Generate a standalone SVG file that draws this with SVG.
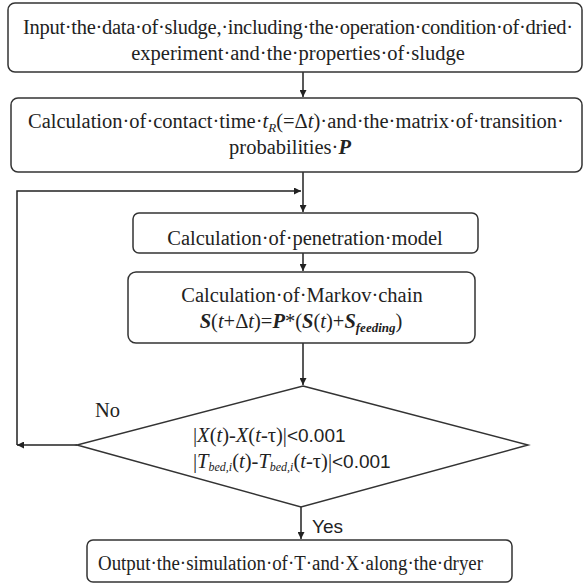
<svg xmlns="http://www.w3.org/2000/svg" width="584" height="584" viewBox="0 0 584 584">
<defs>
<marker id="ah" viewBox="0 0 10 10" refX="10" refY="5" markerWidth="8" markerHeight="7" orient="auto" markerUnits="userSpaceOnUse">
<path d="M0,0 L10,5 L0,10 z" fill="#222"/>
</marker>
<style>
.box{fill:#fff;stroke:#333;stroke-width:1.5}
.t{font-family:"Liberation Serif","Times New Roman",serif;font-size:20.5px;fill:#222}
.c{text-anchor:middle}
.l{text-anchor:start}
.ts{font-family:"Liberation Sans",Arial,sans-serif;font-size:19px;fill:#222}
.ln{fill:none;stroke:#222;stroke-width:1.5}
.i{font-style:italic}
.bi{font-style:italic;font-weight:bold}
.s{font-family:"Liberation Sans",Arial,sans-serif;font-size:19px}
</style>
</defs>
<rect width="584" height="584" fill="#fff"/>
<g id="connectors">
<line class="ln" x1="303" y1="72" x2="303" y2="97" marker-end="url(#ah)"/>
<line class="ln" x1="303" y1="172" x2="303" y2="212" marker-end="url(#ah)"/>
<polyline class="ln" points="17,445 17,191 301,191" marker-end="url(#ah)"/>
<line class="ln" x1="303" y1="253" x2="303" y2="271" marker-end="url(#ah)"/>
<line class="ln" x1="303" y1="343" x2="303" y2="385" marker-end="url(#ah)"/>
<line class="ln" x1="77" y1="445" x2="17" y2="445" marker-end="url(#ah)"/>
<line class="ln" x1="301" y1="507" x2="301" y2="539" marker-end="url(#ah)"/>
<text class="t l" x="95" y="417">No</text>
<text class="ts" x="312" y="533">Yes</text>
</g>
<g id="input">
<rect class="box" x="8" y="3" width="574" height="69" rx="7"/>
<text class="t c" x="298" y="34" textLength="550" lengthAdjust="spacing">Input·the·data·of·sludge,·including·the·operation·condition·of·dried·</text>
<text class="t c" x="298" y="60">experiment·and·the·properties·of·sludge</text>
</g>
<g id="contact">
<rect class="box" x="11" y="98" width="571" height="74" rx="7"/>
<text class="t c" x="296" y="128">Calculation·of·contact·time·<tspan class="i">t</tspan><tspan class="i" font-size="13" dy="4">R</tspan><tspan dy="-4">(=Δ</tspan><tspan class="i">t</tspan>)·and·the·matrix·of·transition·</text>
<text class="t c" x="290" y="154">probabilities·<tspan class="bi">P</tspan></text>
</g>
<g id="penetration">
<rect class="box" x="133" y="213" width="345" height="40" rx="6"/>
<text class="t c" x="305" y="245">Calculation·of·penetration·model</text>
</g>
<g id="markov">
<rect class="box" x="128" y="272" width="347" height="71" rx="8"/>
<text class="t c" x="302" y="302">Calculation·of·Markov·chain</text>
<text class="t c" x="301" y="328"><tspan class="bi">S</tspan>(<tspan class="i">t</tspan>+Δ<tspan class="i">t</tspan>)=<tspan class="bi">P</tspan>*(<tspan class="bi">S</tspan>(<tspan class="i">t</tspan>)+<tspan class="bi">S</tspan><tspan class="bi" font-size="13" dy="4">feeding</tspan><tspan dy="-4">)</tspan></text>
</g>
<g id="decision">
<polygon class="box" points="303,386 528,445 301,507 77,445"/>
<text class="t l" x="193" y="442">|<tspan class="i">X</tspan>(<tspan class="i">t</tspan>)-<tspan class="i">X</tspan>(<tspan class="i">t</tspan>-τ)|<tspan class="s">&lt;0.001</tspan></text>
<text class="t l" x="193" y="468">|<tspan class="i">T</tspan><tspan class="i" font-size="12" dy="3">bed,i</tspan><tspan dy="-3">(</tspan><tspan class="i">t</tspan>)-<tspan class="i">T</tspan><tspan class="i" font-size="12" dy="3">bed,i</tspan><tspan dy="-3">(</tspan><tspan class="i">t</tspan>-τ)|<tspan class="s">&lt;0.001</tspan></text>
</g>
<g id="output">
<rect class="box" x="87" y="540" width="425" height="42" rx="6"/>
<text class="t l" x="98" y="570" textLength="385" lengthAdjust="spacingAndGlyphs">Output·the·simulation·of·T·and·X·along·the·dryer</text>
</g>
</svg>
